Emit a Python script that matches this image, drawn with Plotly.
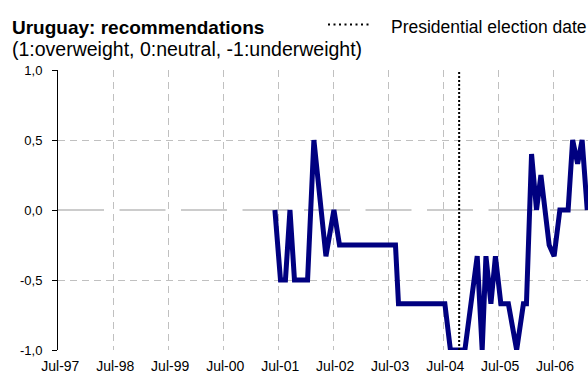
import plotly.graph_objects as go

# Monthly recommendation score (average of ratings)
rec_dates = [
    "2001-06-09", "2001-07-16", "2001-08-18", "2001-09-17", "2001-10-17",
    "2002-01-12", "2002-02-23", "2002-05-14", "2002-07-06", "2002-08-12",
    "2003-08-19", "2003-09-08", "2004-07-12", "2004-08-18", "2004-11-22",
    "2005-02-12", "2005-03-17", "2005-04-11", "2005-05-14", "2005-06-13",
    "2005-07-19", "2005-09-07", "2005-11-01", "2005-12-16", "2006-01-05",
    "2006-02-08", "2006-03-13", "2006-04-11", "2006-06-05", "2006-07-08",
    "2006-08-15", "2006-10-09", "2006-11-08", "2006-12-11", "2007-01-10",
    "2007-02-13",
]
rec_values = [
    0, -0.5, -0.5, 0, -0.5,
    -0.5, 0.5, -0.33, 0, -0.25,
    -0.25, -0.67, -0.67, -1, -1,
    -0.33, -1, -0.33, -0.67, -0.33,
    -0.67, -0.67, -1, -0.67, -0.67,
    0.4, 0, 0.25, -0.25, -0.33,
    0, 0, 0.5, 0.33, 0.5,
    0,
]

election_date = "2004-10-15"
election_span = [-1, 1]

x_tick_dates = [f"{y}-07-01" for y in range(1997, 2007)]
x_tick_labels = ["Jul-97", "Jul-98", "Jul-99", "Jul-00", "Jul-01",
                 "Jul-02", "Jul-03", "Jul-04", "Jul-05", "Jul-06"]
y_tick_values = [-1, -0.5, 0, 0.5, 1]
y_tick_labels = ["-1,0", "-0,5", "0,0", "0,5", "1,0"]

FONT = "Liberation Sans, Arial, sans-serif"
W, H = 588, 376
L, R, T, B = 58, 0, 70, 26
PW, PH = W - L - R, H - T - B


def px_x(px):
    return (px - L) / PW


def px_y(py):
    return (H - B - py) / PH


fig = go.Figure()

fig.add_trace(go.Scatter(
    x=rec_dates, y=rec_values, mode="lines",
    line=dict(color="#000080", width=5),
    showlegend=False, hoverinfo="skip",
))

fig.add_trace(go.Scatter(
    x=[election_date, election_date], y=election_span, mode="lines",
    line=dict(color="#000000", width=2, dash="2px,2px"),
    showlegend=False, hoverinfo="skip",
))

# zero reference line (long dashes)
fig.add_shape(type="line", xref="paper", yref="y", x0=0, x1=1, y0=0, y1=0,
              line=dict(color="#9a9a9a", width=1.2, dash="46px,15.5px"),
              layer="below")

# legend sample for the election line
fig.add_shape(type="line", xref="paper", yref="paper",
              x0=px_x(328), x1=px_x(371), y0=px_y(24.5), y1=px_y(24.5),
              line=dict(color="#000000", width=2, dash="2px,3.5px"))

fig.add_annotation(text="<b>Uruguay: recommendations</b>", xref="paper", yref="paper",
                   x=px_x(10), y=px_y(27.2), xanchor="left", yanchor="middle",
                   showarrow=False, font=dict(family=FONT, size=19, color="#000000"))
fig.add_annotation(text="(1:overweight, 0:neutral, -1:underweight)", xref="paper", yref="paper",
                   x=px_x(9.5), y=px_y(49.4), xanchor="left", yanchor="middle",
                   showarrow=False, font=dict(family=FONT, size=19.5, color="#000000"))
fig.add_annotation(text="Presidential election date", xref="paper", yref="paper",
                   x=px_x(389), y=px_y(26.9), xanchor="left", yanchor="middle",
                   showarrow=False, font=dict(family=FONT, size=17.5, color="#000000"))

fig.update_layout(
    width=W, height=H,
    margin=dict(l=L, r=R, t=T, b=B, pad=0),
    paper_bgcolor="#ffffff", plot_bgcolor="#ffffff",
    font=dict(family=FONT, color="#000000"),
    xaxis=dict(
        type="date", range=["1997-06-29", "2007-02-18"],
        tickmode="array", tickvals=x_tick_dates, ticktext=x_tick_labels,
        showgrid=True, gridcolor="#c0c0c0", gridwidth=1, griddash="7px,5px",
        showline=False, zeroline=False, ticks="",
        tickfont=dict(family=FONT, size=14, color="#000000"),
        ticklabelstandoff=6, ticklabelshift=2,
    ),
    yaxis=dict(
        range=[-1, 1],
        tickmode="array", tickvals=y_tick_values, ticktext=y_tick_labels,
        showgrid=True, gridcolor="#c0c0c0", gridwidth=1, griddash="7px,5px",
        zeroline=True, zerolinecolor="rgba(0,0,0,0)", zerolinewidth=1,
        showline=True, linecolor="#000000", linewidth=1,
        ticks="outside", ticklen=5, tickcolor="#000000", tickwidth=1,
        tickfont=dict(family=FONT, size=13, color="#000000"),
        ticklabelstandoff=7,
    ),
)

fig.write_html("out.html")
